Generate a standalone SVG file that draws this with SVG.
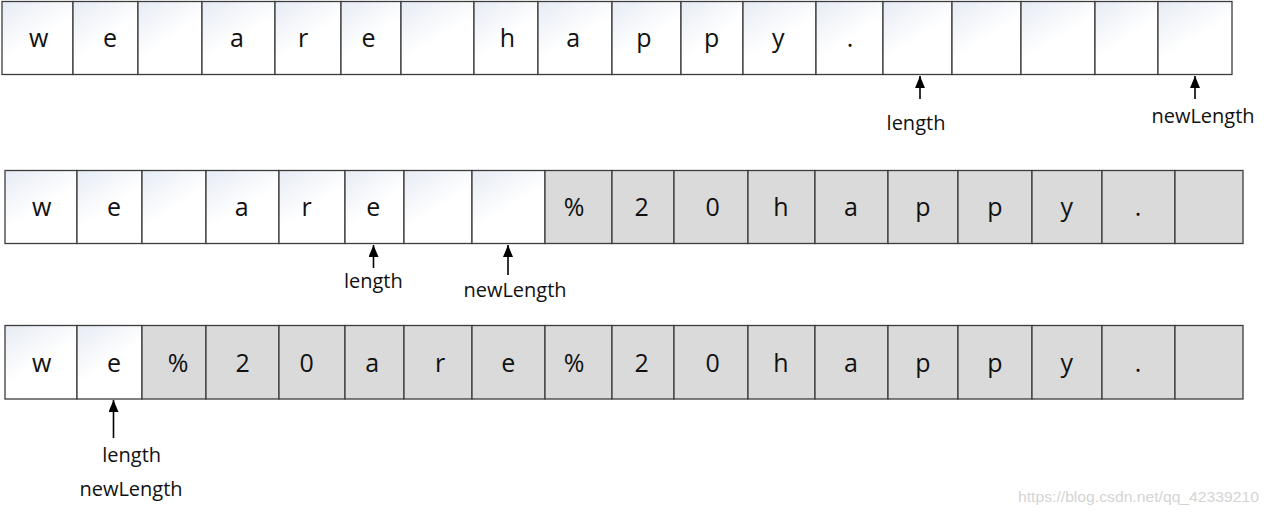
<svg xmlns="http://www.w3.org/2000/svg" width="1270" height="515" viewBox="0 0 1270 515">
<defs>
<linearGradient id="wg" x1="0" y1="0" x2="0.6" y2="1">
<stop offset="0" stop-color="#e6ebf4"/>
<stop offset="0.6" stop-color="#ffffff"/>
<stop offset="1" stop-color="#ffffff"/>
</linearGradient>
<marker id="ah" markerWidth="12" markerHeight="10" refX="12" refY="5" orient="auto" markerUnits="userSpaceOnUse" viewBox="0 0 12 10">
<path d="M0,0 L12,5 L0,10 Z" fill="#000"/>
</marker>
</defs>
<style>
.w{fill:url(#wg);stroke:#3c3c3c;stroke-width:1.3}
.g{fill:#dadada;stroke:#3c3c3c;stroke-width:1.3}
.c{font-family:"Open Sans","DejaVu Sans",sans-serif;font-size:25px;fill:#111;text-anchor:middle}
.l{font-family:"Open Sans","DejaVu Sans",sans-serif;font-size:20px;fill:#111;text-anchor:middle}
.a{stroke:#000;stroke-width:1.6;fill:none}
.wm{font-family:"Liberation Sans",Arial,sans-serif;font-size:15px;fill:#d4d4d4}
</style>

<g id="row1">
<g id="r1c1"><rect class="w" x="2" y="1.5" width="71" height="73"/><text class="c" x="38.7" y="47">w</text></g>
<g id="r1c2"><rect class="w" x="73" y="1.5" width="65" height="73"/><text class="c" x="110" y="47">e</text></g>
<g id="r1c3"><rect class="w" x="138" y="1.5" width="64" height="73"/></g>
<g id="r1c4"><rect class="w" x="202" y="1.5" width="73" height="73"/><text class="c" x="237" y="47">a</text></g>
<g id="r1c5"><rect class="w" x="275" y="1.5" width="66" height="73"/><text class="c" x="303" y="47">r</text></g>
<g id="r1c6"><rect class="w" x="341" y="1.5" width="60" height="73"/><text class="c" x="368.5" y="47">e</text></g>
<g id="r1c7"><rect class="w" x="401" y="1.5" width="73" height="73"/></g>
<g id="r1c8"><rect class="w" x="474" y="1.5" width="64" height="73"/><text class="c" x="507.3" y="47">h</text></g>
<g id="r1c9"><rect class="w" x="538" y="1.5" width="74" height="73"/><text class="c" x="573.3" y="47">a</text></g>
<g id="r1c10"><rect class="w" x="612" y="1.5" width="69" height="73"/><text class="c" x="644" y="47">p</text></g>
<g id="r1c11"><rect class="w" x="681" y="1.5" width="62" height="73"/><text class="c" x="711.7" y="47">p</text></g>
<g id="r1c12"><rect class="w" x="743" y="1.5" width="73" height="73"/><text class="c" x="778.3" y="47">y</text></g>
<g id="r1c13"><rect class="w" x="816" y="1.5" width="67" height="73"/><text class="c" x="850" y="47">.</text></g>
<g id="r1c14"><rect class="w" x="883" y="1.5" width="69" height="73"/></g>
<g id="r1c15"><rect class="w" x="952" y="1.5" width="69" height="73"/></g>
<g id="r1c16"><rect class="w" x="1021" y="1.5" width="74" height="73"/></g>
<g id="r1c17"><rect class="w" x="1095" y="1.5" width="63" height="73"/></g>
<g id="r1c18"><rect class="w" x="1158" y="1.5" width="74" height="73"/></g>
</g>

<g id="row2">
<g id="r2c1"><rect class="w" x="5" y="170.5" width="72" height="73"/><text class="c" x="41.7" y="216">w</text></g>
<g id="r2c2"><rect class="w" x="77" y="170.5" width="65" height="73"/><text class="c" x="114" y="216">e</text></g>
<g id="r2c3"><rect class="w" x="142" y="170.5" width="64" height="73"/></g>
<g id="r2c4"><rect class="w" x="206" y="170.5" width="73" height="73"/><text class="c" x="241.7" y="216">a</text></g>
<g id="r2c5"><rect class="w" x="279" y="170.5" width="66" height="73"/><text class="c" x="306.7" y="216">r</text></g>
<g id="r2c6"><rect class="w" x="345" y="170.5" width="59" height="73"/><text class="c" x="373.3" y="216">e</text></g>
<g id="r2c7"><rect class="w" x="404" y="170.5" width="68" height="73"/></g>
<g id="r2c8"><rect class="w" x="472" y="170.5" width="73" height="73"/></g>
<g id="r2c9"><rect class="g" x="545" y="170.5" width="67" height="73"/><text class="c" x="574" y="216">%</text></g>
<g id="r2c10"><rect class="g" x="612" y="170.5" width="62" height="73"/><text class="c" x="641.7" y="216">2</text></g>
<g id="r2c11"><rect class="g" x="674" y="170.5" width="74" height="73"/><text class="c" x="712.7" y="216">0</text></g>
<g id="r2c12"><rect class="g" x="748" y="170.5" width="67" height="73"/><text class="c" x="781" y="216">h</text></g>
<g id="r2c13"><rect class="g" x="815" y="170.5" width="73" height="73"/><text class="c" x="851" y="216">a</text></g>
<g id="r2c14"><rect class="g" x="888" y="170.5" width="70" height="73"/><text class="c" x="923" y="216">p</text></g>
<g id="r2c15"><rect class="g" x="958" y="170.5" width="74" height="73"/><text class="c" x="995" y="216">p</text></g>
<g id="r2c16"><rect class="g" x="1032" y="170.5" width="70" height="73"/><text class="c" x="1066.7" y="216">y</text></g>
<g id="r2c17"><rect class="g" x="1102" y="170.5" width="73" height="73"/><text class="c" x="1138" y="216">.</text></g>
<g id="r2c18"><rect class="g" x="1175" y="170.5" width="68" height="73"/></g>
</g>

<g id="row3">
<g id="r3c1"><rect class="w" x="5" y="325.5" width="72" height="73.5"/><text class="c" x="41.7" y="372">w</text></g>
<g id="r3c2"><rect class="w" x="77" y="325.5" width="65" height="73.5"/><text class="c" x="114" y="372">e</text></g>
<g id="r3c3"><rect class="g" x="142" y="325.5" width="64" height="73.5"/><text class="c" x="178" y="372">%</text></g>
<g id="r3c4"><rect class="g" x="206" y="325.5" width="73" height="73.5"/><text class="c" x="242.7" y="372">2</text></g>
<g id="r3c5"><rect class="g" x="279" y="325.5" width="66" height="73.5"/><text class="c" x="306.7" y="372">0</text></g>
<g id="r3c6"><rect class="g" x="345" y="325.5" width="59" height="73.5"/><text class="c" x="372.3" y="372">a</text></g>
<g id="r3c7"><rect class="g" x="404" y="325.5" width="68" height="73.5"/><text class="c" x="440" y="372">r</text></g>
<g id="r3c8"><rect class="g" x="472" y="325.5" width="73" height="73.5"/><text class="c" x="508.3" y="372">e</text></g>
<g id="r3c9"><rect class="g" x="545" y="325.5" width="67" height="73.5"/><text class="c" x="574" y="372">%</text></g>
<g id="r3c10"><rect class="g" x="612" y="325.5" width="62" height="73.5"/><text class="c" x="641.7" y="372">2</text></g>
<g id="r3c11"><rect class="g" x="674" y="325.5" width="74" height="73.5"/><text class="c" x="712.7" y="372">0</text></g>
<g id="r3c12"><rect class="g" x="748" y="325.5" width="67" height="73.5"/><text class="c" x="781" y="372">h</text></g>
<g id="r3c13"><rect class="g" x="815" y="325.5" width="73" height="73.5"/><text class="c" x="851" y="372">a</text></g>
<g id="r3c14"><rect class="g" x="888" y="325.5" width="70" height="73.5"/><text class="c" x="923" y="372">p</text></g>
<g id="r3c15"><rect class="g" x="958" y="325.5" width="74" height="73.5"/><text class="c" x="995" y="372">p</text></g>
<g id="r3c16"><rect class="g" x="1032" y="325.5" width="70" height="73.5"/><text class="c" x="1066.7" y="372">y</text></g>
<g id="r3c17"><rect class="g" x="1102" y="325.5" width="73" height="73.5"/><text class="c" x="1138" y="372">.</text></g>
<g id="r3c18"><rect class="g" x="1175" y="325.5" width="68" height="73.5"/></g>
</g>

<g id="connectors">
<line class="a" x1="920" y1="99" x2="920" y2="76" marker-end="url(#ah)"/>
<line class="a" x1="1195" y1="99" x2="1195" y2="76" marker-end="url(#ah)"/>
<line class="a" x1="373.5" y1="268" x2="373.5" y2="245" marker-end="url(#ah)"/>
<line class="a" x1="508" y1="275" x2="508" y2="245" marker-end="url(#ah)"/>
<line class="a" x1="113.5" y1="438" x2="113.5" y2="400" marker-end="url(#ah)"/>
</g>

<g id="label-length-1"><text class="l" x="916" y="130">length</text></g>
<g id="label-newLength-1"><text class="l" x="1203" y="123">newLength</text></g>
<g id="label-length-2"><text class="l" x="373.3" y="287.5">length</text></g>
<g id="label-newLength-2"><text class="l" x="515" y="296.5">newLength</text></g>
<g id="label-length-3"><text class="l" x="131.7" y="461.5">length</text></g>
<g id="label-newLength-3"><text class="l" x="131" y="495.5">newLength</text></g>

<text class="wm" x="1018" y="502" textLength="241" lengthAdjust="spacingAndGlyphs">https://blog.csdn.net/qq_42339210</text>
</svg>
